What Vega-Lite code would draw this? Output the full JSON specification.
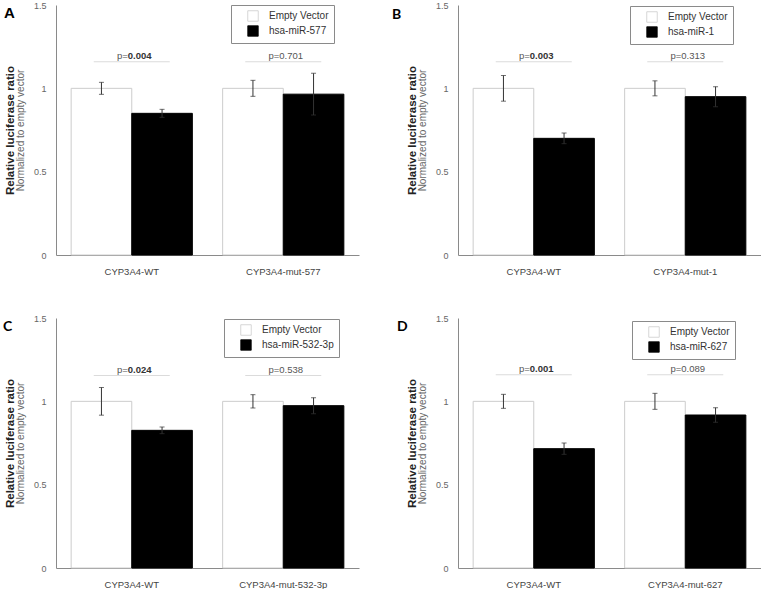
{
  "$schema": "https://vega.github.io/schema/vega-lite/v6.json",
  "padding": {"left": 3, "top": 1, "right": 0, "bottom": 0},
  "background": "white",
  "config": {
    "font": "Liberation Sans",
    "view": {"stroke": null},
    "axisY": {"domainColor": "#8a8a8a", "labelColor": "#666666", "labelFontSize": 9, "ticks": false, "grid": false, "labelPadding": 10, "titleFontSize": 11.5, "titleFontWeight": "bold", "titleColor": "#222222", "titleX": -43, "titleBaseline": "alphabetic"},
    "axisX": {"domainColor": "#8a8a8a", "labelColor": "#444444", "labelFontSize": 9.5, "ticks": false, "grid": false, "labelPadding": 11, "labelAngle": 0, "title": null},
    "legend": {"orient": "none", "title": null, "strokeColor": "#8a8a8a", "fillColor": "white", "padding": 5, "symbolType": "square", "symbolSize": 110, "symbolStrokeColor": "#bbbbbb", "symbolStrokeWidth": 0.8, "symbolOffset": 11, "labelOffset": 10, "labelFontSize": 10, "labelColor": "#333333", "rowPadding": 1}
  },
  "columns": 2,
  "spacing": {"row": 63, "column": 99},
  "bounds": "flush",
  "resolve": {
    "scale": {"x": "independent", "y": "independent", "xOffset": "independent", "fill": "independent", "stroke": "independent"},
    "axis": {"x": "independent", "y": "independent"},
    "legend": {"fill": "independent", "stroke": "independent"}
  },
  "concat": [
    {
      "width": 303, "height": 250,
      "title": {"text": "A", "anchor": "start", "frame": "group", "orient": "top", "offset": -32, "dx": -52, "fontSize": 15, "fontWeight": "bold", "color": "#000000", "baseline": "alphabetic"},
      "resolve": {"axis": {"y": "independent"}},
      "layer": [
        {
          "data": {"values": [
            {"group": "CYP3A4-WT", "series": "Empty Vector", "value": 1.0, "lo": 0.964, "hi": 1.036},
            {"group": "CYP3A4-WT", "series": "hsa-miR-577", "value": 0.85, "lo": 0.826, "hi": 0.874},
            {"group": "CYP3A4-mut-577", "series": "Empty Vector", "value": 1.0, "lo": 0.952, "hi": 1.048},
            {"group": "CYP3A4-mut-577", "series": "hsa-miR-577", "value": 0.965, "lo": 0.84, "hi": 1.09}
          ]},
          "resolve": {"axis": {"y": "independent"}},
          "layer": [
            {
              "mark": {"type": "bar", "strokeWidth": 1},
              "encoding": {
                "x": {"field": "group", "type": "nominal", "sort": null, "scale": {"paddingInner": 0.2, "paddingOuter": 0.1}},
                "xOffset": {"field": "series", "type": "nominal", "sort": null},
                "y": {"field": "value", "type": "quantitative", "scale": {"domain": [0, 1.5], "nice": false}, "axis": {"values": [0, 0.5, 1, 1.5], "format": "~g", "title": "Relative luciferase ratio"}},
                "fill": {"field": "series", "type": "nominal", "sort": null, "scale": {"range": ["#ffffff", "#000000"]}, "legend": {"legendX": 175, "legendY": 0}},
                "stroke": {"field": "series", "type": "nominal", "sort": null, "scale": {"range": ["#cccccc", "#000000"]}, "legend": null}
              }
            },
            {
              "mark": {"type": "rule", "color": "#333333", "strokeWidth": 1},
              "encoding": {
                "x": {"field": "group", "type": "nominal", "sort": null},
                "xOffset": {"field": "series", "type": "nominal", "sort": null},
                "y": {"field": "lo", "type": "quantitative", "axis": {"orient": "left", "labels": false, "ticks": false, "domain": false, "grid": false, "title": "Normalized to empty vector", "titleFontWeight": "normal", "titleFontSize": 10, "titleColor": "#666666", "titleX": -33}},
                "y2": {"field": "hi"}
              }
            },
            {
              "mark": {"type": "tick", "color": "#333333", "thickness": 1, "size": 5},
              "encoding": {
                "x": {"field": "group", "type": "nominal", "sort": null},
                "xOffset": {"field": "series", "type": "nominal", "sort": null},
                "y": {"field": "hi", "type": "quantitative", "axis": null}
              }
            },
            {
              "mark": {"type": "tick", "color": "#333333", "thickness": 1, "size": 5},
              "encoding": {
                "x": {"field": "group", "type": "nominal", "sort": null},
                "xOffset": {"field": "series", "type": "nominal", "sort": null},
                "y": {"field": "lo", "type": "quantitative", "axis": null}
              }
            }
          ]
        },
        {
          "data": {"values": [
            {"group": "CYP3A4-WT", "p": "0.004", "sig": true},
            {"group": "CYP3A4-mut-577", "p": "0.701", "sig": false}
          ]},
          "layer": [
            {
              "mark": {"type": "tick", "color": "#cccccc", "thickness": 1, "size": 76},
              "encoding": {"x": {"field": "group", "type": "nominal", "sort": null}, "y": {"datum": 1.16, "type": "quantitative", "axis": null}}
            },
            {
              "mark": {"type": "text", "text": "p=", "align": "right", "baseline": "alphabetic", "dx": -4, "dy": -3, "fontSize": 9.5, "color": "#555555"},
              "encoding": {"x": {"field": "group", "type": "nominal", "sort": null}, "y": {"datum": 1.16, "type": "quantitative", "axis": null}}
            },
            {
              "transform": [{"filter": "datum.sig"}],
              "mark": {"type": "text", "align": "left", "baseline": "alphabetic", "dx": -4, "dy": -3, "fontSize": 9.5, "fontWeight": "bold", "color": "#333333"},
              "encoding": {"x": {"field": "group", "type": "nominal", "sort": null}, "y": {"datum": 1.16, "type": "quantitative", "axis": null}, "text": {"field": "p"}}
            },
            {
              "transform": [{"filter": "!datum.sig"}],
              "mark": {"type": "text", "align": "left", "baseline": "alphabetic", "dx": -4, "dy": -3, "fontSize": 9.5, "color": "#555555"},
              "encoding": {"x": {"field": "group", "type": "nominal", "sort": null}, "y": {"datum": 1.16, "type": "quantitative", "axis": null}, "text": {"field": "p"}}
            }
          ]
        }
      ]
    },
    {
      "width": 303, "height": 250,
      "title": {"text": "B", "anchor": "start", "frame": "group", "orient": "top", "offset": -32, "dx": -66, "fontSize": 14, "font": "Lato", "fontWeight": "bold", "color": "#000000", "baseline": "alphabetic"},
      "resolve": {"axis": {"y": "independent"}},
      "layer": [
        {
          "data": {"values": [
            {"group": "CYP3A4-WT", "series": "Empty Vector", "value": 1.0, "lo": 0.923, "hi": 1.077},
            {"group": "CYP3A4-WT", "series": "hsa-miR-1", "value": 0.70, "lo": 0.668, "hi": 0.732},
            {"group": "CYP3A4-mut-1", "series": "Empty Vector", "value": 1.0, "lo": 0.955, "hi": 1.045},
            {"group": "CYP3A4-mut-1", "series": "hsa-miR-1", "value": 0.95, "lo": 0.89, "hi": 1.01}
          ]},
          "resolve": {"axis": {"y": "independent"}},
          "layer": [
            {
              "mark": {"type": "bar", "strokeWidth": 1},
              "encoding": {
                "x": {"field": "group", "type": "nominal", "sort": null, "scale": {"paddingInner": 0.2, "paddingOuter": 0.1}},
                "xOffset": {"field": "series", "type": "nominal", "sort": null},
                "y": {"field": "value", "type": "quantitative", "scale": {"domain": [0, 1.5], "nice": false}, "axis": {"values": [0, 0.5, 1, 1.5], "format": "~g", "title": "Relative luciferase ratio"}},
                "fill": {"field": "series", "type": "nominal", "sort": null, "scale": {"range": ["#ffffff", "#000000"]}, "legend": {"legendX": 172, "legendY": 1}},
                "stroke": {"field": "series", "type": "nominal", "sort": null, "scale": {"range": ["#cccccc", "#000000"]}, "legend": null}
              }
            },
            {
              "mark": {"type": "rule", "color": "#333333", "strokeWidth": 1},
              "encoding": {
                "x": {"field": "group", "type": "nominal", "sort": null},
                "xOffset": {"field": "series", "type": "nominal", "sort": null},
                "y": {"field": "lo", "type": "quantitative", "axis": {"orient": "left", "labels": false, "ticks": false, "domain": false, "grid": false, "title": "Normalized to empty vector", "titleFontWeight": "normal", "titleFontSize": 10, "titleColor": "#666666", "titleX": -33}},
                "y2": {"field": "hi"}
              }
            },
            {
              "mark": {"type": "tick", "color": "#333333", "thickness": 1, "size": 5},
              "encoding": {
                "x": {"field": "group", "type": "nominal", "sort": null},
                "xOffset": {"field": "series", "type": "nominal", "sort": null},
                "y": {"field": "hi", "type": "quantitative", "axis": null}
              }
            },
            {
              "mark": {"type": "tick", "color": "#333333", "thickness": 1, "size": 5},
              "encoding": {
                "x": {"field": "group", "type": "nominal", "sort": null},
                "xOffset": {"field": "series", "type": "nominal", "sort": null},
                "y": {"field": "lo", "type": "quantitative", "axis": null}
              }
            }
          ]
        },
        {
          "data": {"values": [
            {"group": "CYP3A4-WT", "p": "0.003", "sig": true},
            {"group": "CYP3A4-mut-1", "p": "0.313", "sig": false}
          ]},
          "layer": [
            {
              "mark": {"type": "tick", "color": "#cccccc", "thickness": 1, "size": 76},
              "encoding": {"x": {"field": "group", "type": "nominal", "sort": null}, "y": {"datum": 1.16, "type": "quantitative", "axis": null}}
            },
            {
              "mark": {"type": "text", "text": "p=", "align": "right", "baseline": "alphabetic", "dx": -4, "dy": -3, "fontSize": 9.5, "color": "#555555"},
              "encoding": {"x": {"field": "group", "type": "nominal", "sort": null}, "y": {"datum": 1.16, "type": "quantitative", "axis": null}}
            },
            {
              "transform": [{"filter": "datum.sig"}],
              "mark": {"type": "text", "align": "left", "baseline": "alphabetic", "dx": -4, "dy": -3, "fontSize": 9.5, "fontWeight": "bold", "color": "#333333"},
              "encoding": {"x": {"field": "group", "type": "nominal", "sort": null}, "y": {"datum": 1.16, "type": "quantitative", "axis": null}, "text": {"field": "p"}}
            },
            {
              "transform": [{"filter": "!datum.sig"}],
              "mark": {"type": "text", "align": "left", "baseline": "alphabetic", "dx": -4, "dy": -3, "fontSize": 9.5, "color": "#555555"},
              "encoding": {"x": {"field": "group", "type": "nominal", "sort": null}, "y": {"datum": 1.16, "type": "quantitative", "axis": null}, "text": {"field": "p"}}
            }
          ]
        }
      ]
    },
    {
      "width": 303, "height": 250,
      "title": {"text": "C", "anchor": "start", "frame": "group", "orient": "top", "offset": -31, "dx": -53, "fontSize": 14, "font": "Lato", "fontWeight": "bold", "color": "#000000", "baseline": "alphabetic"},
      "resolve": {"axis": {"y": "independent"}},
      "layer": [
        {
          "data": {"values": [
            {"group": "CYP3A4-WT", "series": "Empty Vector", "value": 1.0, "lo": 0.917, "hi": 1.083},
            {"group": "CYP3A4-WT", "series": "hsa-miR-532-3p", "value": 0.826, "lo": 0.806, "hi": 0.846},
            {"group": "CYP3A4-mut-532-3p", "series": "Empty Vector", "value": 1.0, "lo": 0.96, "hi": 1.04},
            {"group": "CYP3A4-mut-532-3p", "series": "hsa-miR-532-3p", "value": 0.974, "lo": 0.926, "hi": 1.022}
          ]},
          "resolve": {"axis": {"y": "independent"}},
          "layer": [
            {
              "mark": {"type": "bar", "strokeWidth": 1},
              "encoding": {
                "x": {"field": "group", "type": "nominal", "sort": null, "scale": {"paddingInner": 0.2, "paddingOuter": 0.1}},
                "xOffset": {"field": "series", "type": "nominal", "sort": null},
                "y": {"field": "value", "type": "quantitative", "scale": {"domain": [0, 1.5], "nice": false}, "axis": {"values": [0, 0.5, 1, 1.5], "format": "~g", "title": "Relative luciferase ratio"}},
                "fill": {"field": "series", "type": "nominal", "sort": null, "scale": {"range": ["#ffffff", "#000000"]}, "legend": {"legendX": 168, "legendY": 1}},
                "stroke": {"field": "series", "type": "nominal", "sort": null, "scale": {"range": ["#cccccc", "#000000"]}, "legend": null}
              }
            },
            {
              "mark": {"type": "rule", "color": "#333333", "strokeWidth": 1},
              "encoding": {
                "x": {"field": "group", "type": "nominal", "sort": null},
                "xOffset": {"field": "series", "type": "nominal", "sort": null},
                "y": {"field": "lo", "type": "quantitative", "axis": {"orient": "left", "labels": false, "ticks": false, "domain": false, "grid": false, "title": "Normalized to empty vector", "titleFontWeight": "normal", "titleFontSize": 10, "titleColor": "#666666", "titleX": -33}},
                "y2": {"field": "hi"}
              }
            },
            {
              "mark": {"type": "tick", "color": "#333333", "thickness": 1, "size": 5},
              "encoding": {
                "x": {"field": "group", "type": "nominal", "sort": null},
                "xOffset": {"field": "series", "type": "nominal", "sort": null},
                "y": {"field": "hi", "type": "quantitative", "axis": null}
              }
            },
            {
              "mark": {"type": "tick", "color": "#333333", "thickness": 1, "size": 5},
              "encoding": {
                "x": {"field": "group", "type": "nominal", "sort": null},
                "xOffset": {"field": "series", "type": "nominal", "sort": null},
                "y": {"field": "lo", "type": "quantitative", "axis": null}
              }
            }
          ]
        },
        {
          "data": {"values": [
            {"group": "CYP3A4-WT", "p": "0.024", "sig": true},
            {"group": "CYP3A4-mut-532-3p", "p": "0.538", "sig": false}
          ]},
          "layer": [
            {
              "mark": {"type": "tick", "color": "#cccccc", "thickness": 1, "size": 76},
              "encoding": {"x": {"field": "group", "type": "nominal", "sort": null}, "y": {"datum": 1.155, "type": "quantitative", "axis": null}}
            },
            {
              "mark": {"type": "text", "text": "p=", "align": "right", "baseline": "alphabetic", "dx": -4, "dy": -3, "fontSize": 9.5, "color": "#555555"},
              "encoding": {"x": {"field": "group", "type": "nominal", "sort": null}, "y": {"datum": 1.155, "type": "quantitative", "axis": null}}
            },
            {
              "transform": [{"filter": "datum.sig"}],
              "mark": {"type": "text", "align": "left", "baseline": "alphabetic", "dx": -4, "dy": -3, "fontSize": 9.5, "fontWeight": "bold", "color": "#333333"},
              "encoding": {"x": {"field": "group", "type": "nominal", "sort": null}, "y": {"datum": 1.155, "type": "quantitative", "axis": null}, "text": {"field": "p"}}
            },
            {
              "transform": [{"filter": "!datum.sig"}],
              "mark": {"type": "text", "align": "left", "baseline": "alphabetic", "dx": -4, "dy": -3, "fontSize": 9.5, "color": "#555555"},
              "encoding": {"x": {"field": "group", "type": "nominal", "sort": null}, "y": {"datum": 1.155, "type": "quantitative", "axis": null}, "text": {"field": "p"}}
            }
          ]
        }
      ]
    },
    {
      "width": 303, "height": 250,
      "title": {"text": "D", "anchor": "start", "frame": "group", "orient": "top", "offset": -31, "dx": -61, "fontSize": 14, "font": "Lato", "fontWeight": "bold", "color": "#000000", "baseline": "alphabetic"},
      "resolve": {"axis": {"y": "independent"}},
      "layer": [
        {
          "data": {"values": [
            {"group": "CYP3A4-WT", "series": "Empty Vector", "value": 1.0, "lo": 0.958, "hi": 1.042},
            {"group": "CYP3A4-WT", "series": "hsa-miR-627", "value": 0.716, "lo": 0.682, "hi": 0.75},
            {"group": "CYP3A4-mut-627", "series": "Empty Vector", "value": 1.0, "lo": 0.952, "hi": 1.048},
            {"group": "CYP3A4-mut-627", "series": "hsa-miR-627", "value": 0.918, "lo": 0.874, "hi": 0.962}
          ]},
          "resolve": {"axis": {"y": "independent"}},
          "layer": [
            {
              "mark": {"type": "bar", "strokeWidth": 1},
              "encoding": {
                "x": {"field": "group", "type": "nominal", "sort": null, "scale": {"paddingInner": 0.2, "paddingOuter": 0.1}},
                "xOffset": {"field": "series", "type": "nominal", "sort": null},
                "y": {"field": "value", "type": "quantitative", "scale": {"domain": [0, 1.5], "nice": false}, "axis": {"values": [0, 0.5, 1, 1.5], "format": "~g", "title": "Relative luciferase ratio"}},
                "fill": {"field": "series", "type": "nominal", "sort": null, "scale": {"range": ["#ffffff", "#000000"]}, "legend": {"legendX": 174, "legendY": 3}},
                "stroke": {"field": "series", "type": "nominal", "sort": null, "scale": {"range": ["#cccccc", "#000000"]}, "legend": null}
              }
            },
            {
              "mark": {"type": "rule", "color": "#333333", "strokeWidth": 1},
              "encoding": {
                "x": {"field": "group", "type": "nominal", "sort": null},
                "xOffset": {"field": "series", "type": "nominal", "sort": null},
                "y": {"field": "lo", "type": "quantitative", "axis": {"orient": "left", "labels": false, "ticks": false, "domain": false, "grid": false, "title": "Normalized to empty vector", "titleFontWeight": "normal", "titleFontSize": 10, "titleColor": "#666666", "titleX": -33}},
                "y2": {"field": "hi"}
              }
            },
            {
              "mark": {"type": "tick", "color": "#333333", "thickness": 1, "size": 5},
              "encoding": {
                "x": {"field": "group", "type": "nominal", "sort": null},
                "xOffset": {"field": "series", "type": "nominal", "sort": null},
                "y": {"field": "hi", "type": "quantitative", "axis": null}
              }
            },
            {
              "mark": {"type": "tick", "color": "#333333", "thickness": 1, "size": 5},
              "encoding": {
                "x": {"field": "group", "type": "nominal", "sort": null},
                "xOffset": {"field": "series", "type": "nominal", "sort": null},
                "y": {"field": "lo", "type": "quantitative", "axis": null}
              }
            }
          ]
        },
        {
          "data": {"values": [
            {"group": "CYP3A4-WT", "p": "0.001", "sig": true},
            {"group": "CYP3A4-mut-627", "p": "0.089", "sig": false}
          ]},
          "layer": [
            {
              "mark": {"type": "tick", "color": "#cccccc", "thickness": 1, "size": 76},
              "encoding": {"x": {"field": "group", "type": "nominal", "sort": null}, "y": {"datum": 1.16, "type": "quantitative", "axis": null}}
            },
            {
              "mark": {"type": "text", "text": "p=", "align": "right", "baseline": "alphabetic", "dx": -4, "dy": -3, "fontSize": 9.5, "color": "#555555"},
              "encoding": {"x": {"field": "group", "type": "nominal", "sort": null}, "y": {"datum": 1.16, "type": "quantitative", "axis": null}}
            },
            {
              "transform": [{"filter": "datum.sig"}],
              "mark": {"type": "text", "align": "left", "baseline": "alphabetic", "dx": -4, "dy": -3, "fontSize": 9.5, "fontWeight": "bold", "color": "#333333"},
              "encoding": {"x": {"field": "group", "type": "nominal", "sort": null}, "y": {"datum": 1.16, "type": "quantitative", "axis": null}, "text": {"field": "p"}}
            },
            {
              "transform": [{"filter": "!datum.sig"}],
              "mark": {"type": "text", "align": "left", "baseline": "alphabetic", "dx": -4, "dy": -3, "fontSize": 9.5, "color": "#555555"},
              "encoding": {"x": {"field": "group", "type": "nominal", "sort": null}, "y": {"datum": 1.16, "type": "quantitative", "axis": null}, "text": {"field": "p"}}
            }
          ]
        }
      ]
    }
  ]
}
